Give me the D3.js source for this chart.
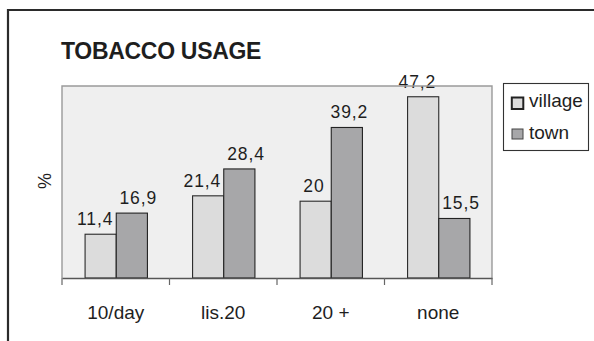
<!DOCTYPE html>
<html>
<head>
<meta charset="utf-8">
<script src="https://cdn.jsdelivr.net/npm/d3@7"></script>
<style>
  html, body { margin: 0; padding: 0; background: #fff; }
  svg { display: block; }
  text { font-family: "Liberation Sans", Arial, Helvetica, sans-serif; fill: #1e1e1e; }
</style>
</head>
<body>
<svg id="chart" width="594" height="341"></svg>
<script>
// Tobacco usage by settlement type (%)
const categories = ["10/day", "lis.20", "20 +", "none"];
const seriesNames = ["village", "town"];
const village = [11.4, 21.4, 20, 47.2];
const town = [16.9, 28.4, 39.2, 15.5];
const yDomain = [0, 50];

const seriesValues = [village, town];
const fills = ["#dcdcdc", "#a7a7a9"];
const strokes = ["#2a2a2a", "#222"];

const svg = d3.select("#chart");
const W = 594, H = 341;
const plot = { left: 62, right: 492, top: 86, bottom: 278 };

svg.append("rect").attr("width", W).attr("height", H).attr("fill", "#fff");

// outer frame (runs off the right and bottom edges)
svg.append("path")
  .attr("d", `M8,${H + 5} L8,10 L${W + 5},10`)
  .attr("fill", "none").attr("stroke", "#2b2b2b").attr("stroke-width", 2.2);

// title
svg.append("text")
  .attr("x", 61).attr("y", 59)
  .attr("font-size", 23).attr("font-weight", "bold")
  .attr("letter-spacing", -0.3)
  .text("TOBACCO USAGE");

const x = d3.scaleBand().domain(categories).range([plot.left, plot.right]).padding(0);
const y = d3.scaleLinear().domain(yDomain).range([plot.bottom, plot.top]);
const barW = x.bandwidth() * 0.29;
const groupOffset = (x.bandwidth() - barW * seriesNames.length) / 2 + 0.5;

// plot background
svg.append("rect")
  .attr("x", plot.left).attr("y", plot.top)
  .attr("width", plot.right - plot.left).attr("height", plot.bottom - plot.top)
  .attr("fill", "#efefef");

// bars
const barData = [];
categories.forEach((c, i) => {
  seriesValues.forEach((vals, s) => {
    barData.push({ c, s, v: vals[i] });
  });
});

svg.append("g").selectAll("rect").data(barData).join("rect")
  .attr("x", d => x(d.c) + groupOffset + d.s * barW)
  .attr("y", d => y(d.v))
  .attr("width", barW)
  .attr("height", d => y(0) - y(d.v))
  .attr("fill", d => fills[d.s])
  .attr("stroke", d => strokes[d.s])
  .attr("stroke-width", 1.1);

// value labels (decimal comma)
const fmt = v => String(v).replace(".", ",");
const labels = svg.append("g").selectAll("text").data(barData).join("text")
  .attr("y", d => y(d.v) - 9)
  .attr("text-anchor", "middle")
  .attr("font-size", 17.5)
  .attr("letter-spacing", 0.9)
  .text(d => fmt(d.v));

// centre each label over its bar, then push apart labels that collide within a group
const gap = 6;
labels.each(function (d) {
  d.cx = x(d.c) + groupOffset + d.s * barW + barW / 2;
  d.w = this.getComputedTextLength();
});
categories.forEach(c => {
  const pair = barData.filter(d => d.c === c);
  const a = pair[0], b = pair[1];
  const need = a.w / 2 + b.w / 2 + gap;
  const dist = b.cx - a.cx;
  if (dist < need) {
    const push = (need - dist) / 2;
    a.cx -= push;
    b.cx += push;
  }
});
labels.attr("x", d => d.cx + 0.45);

// plot border (left, top, right)
svg.append("path")
  .attr("d", `M${plot.left},${plot.bottom} L${plot.left},${plot.top} L${plot.right},${plot.top} L${plot.right},${plot.bottom}`)
  .attr("fill", "none").attr("stroke", "#9a9a9a").attr("stroke-width", 1.4);

// category axis
const axis = svg.append("g").attr("transform", `translate(0,${plot.bottom})`)
  .call(d3.axisBottom(x).tickSize(0).tickPadding(28));
axis.select(".domain").attr("stroke", "#555").attr("stroke-width", 1.6);
axis.selectAll(".tick text")
  .attr("font-size", 19)
  .attr("fill", "#1e1e1e")
  .attr("font-family", "'Liberation Sans', Arial, sans-serif");

// tick marks sit on the category boundaries
const boundaries = categories.map(c => x(c)).concat([x.range()[1]]);
axis.append("g").selectAll("line").data(boundaries).join("line")
  .attr("x1", d => d).attr("x2", d => d)
  .attr("y1", 0).attr("y2", 7)
  .attr("stroke", "#666").attr("stroke-width", 1.2);

// y axis title
svg.append("text")
  .attr("transform", `translate(45,181) rotate(-90)`)
  .attr("text-anchor", "middle")
  .attr("dominant-baseline", "central")
  .attr("font-size", 18)
  .text("%");

// legend
const lg = svg.append("g");
lg.append("rect")
  .attr("x", 503.5).attr("y", 83.5).attr("width", 85).attr("height", 67)
  .attr("fill", "#fff").attr("stroke", "#333").attr("stroke-width", 1.1);
const items = lg.selectAll("g").data(seriesNames).join("g")
  .attr("transform", (d, i) => `translate(0,${i * 32})`);
items.append("rect")
  .attr("x", (d, i) => i === 0 ? 511.8 : 512)
  .attr("y", (d, i) => i === 0 ? 97.5 : 97)
  .attr("width", (d, i) => i === 0 ? 11.5 : 11)
  .attr("height", (d, i) => i === 0 ? 11.5 : 10)
  .attr("fill", (d, i) => fills[i])
  .attr("stroke", (d, i) => i === 0 ? "#222" : "#444")
  .attr("stroke-width", (d, i) => i === 0 ? 2 : 1);
items.append("text")
  .attr("x", 529).attr("y", 106.5)
  .attr("font-size", 19)
  .text(d => d);
</script>
</body>
</html>
